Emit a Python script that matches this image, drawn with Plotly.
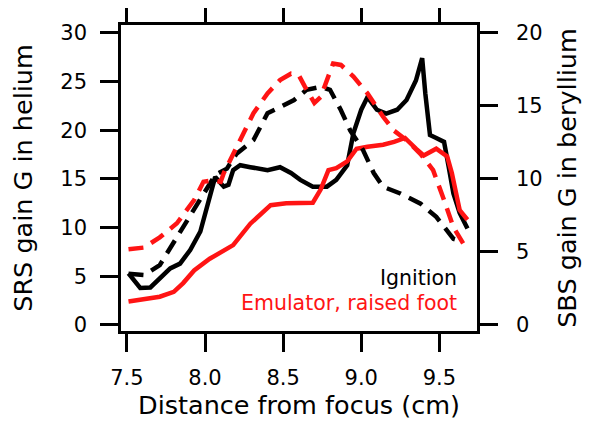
import plotly.graph_objects as go

# Ignition SRS (left axis, helium)
ign_srs_x = [7.51, 7.585, 7.65, 7.71, 7.777, 7.84, 7.905, 7.97, 8.03, 8.065, 8.12, 8.15, 8.18, 8.225, 8.29, 8.40, 8.48, 8.55, 8.61, 8.69, 8.78, 8.84, 8.91, 8.95, 9.0, 9.04, 9.1, 9.16, 9.23, 9.29, 9.35, 9.39, 9.41, 9.44, 9.48, 9.53, 9.56, 9.59, 9.63, 9.68]
ign_srs_y = [5.3, 3.8, 3.85, 4.8, 5.8, 6.3, 7.7, 9.6, 13.2, 15.2, 14.2, 14.4, 15.9, 16.4, 16.2, 15.9, 16.2, 15.6, 14.9, 14.2, 14.2, 14.9, 16.4, 19.7, 22.1, 23.4, 22.1, 21.7, 22.1, 23.1, 25.1, 27.4, 23.8, 19.5, 19.2, 18.8, 16.2, 13.5, 11.5, 9.9]

# Emulator SRS (left axis, helium)
emu_srs_x = [7.51, 7.61, 7.71, 7.80, 7.86, 7.93, 8.03, 8.18, 8.29, 8.42, 8.52, 8.69, 8.74, 8.79, 8.84, 8.91, 8.97, 9.04, 9.14, 9.21, 9.28, 9.35, 9.40, 9.48, 9.55, 9.58, 9.60, 9.63, 9.68]
emu_srs_y = [2.4, 2.6, 2.9, 3.4, 4.3, 5.6, 6.8, 8.2, 10.4, 12.3, 12.5, 12.55, 13.9, 15.9, 16.1, 16.8, 18.1, 18.3, 18.5, 18.8, 19.2, 18.1, 17.4, 18.1, 17.3, 15.6, 13.9, 11.8, 10.8]

# Ignition SBS (right axis, beryllium)
ign_sbs_x = [7.51, 7.61, 7.71, 7.82, 7.905, 7.99, 8.065, 8.14, 8.20, 8.31, 8.40, 8.46, 8.57, 8.65, 8.74, 8.80, 8.87, 8.93, 9.01, 9.08, 9.14, 9.25, 9.38, 9.48, 9.59, 9.65]
ign_sbs_y = [3.5, 3.42, 4.1, 6.0, 7.6, 9.0, 10.26, 10.7, 11.7, 12.65, 14.5, 14.8, 15.4, 16.1, 16.3, 16.1, 14.7, 13.3, 12.0, 10.4, 9.46, 9.0, 8.3, 7.4, 5.9, 5.7]

# Emulator SBS (right axis, beryllium)
emu_sbs_x = [7.51, 7.61, 7.71, 7.82, 7.93, 7.99, 8.055, 8.10, 8.12, 8.18, 8.25, 8.31, 8.40, 8.48, 8.55, 8.60, 8.64, 8.70, 8.74, 8.78, 8.82, 8.87, 8.95, 9.04, 9.14, 9.21, 9.29, 9.38, 9.44, 9.46, 9.53, 9.59, 9.665]
emu_sbs_y = [5.18, 5.3, 6.0, 6.96, 8.55, 9.8, 9.9, 9.8, 10.4, 11.7, 13.1, 14.5, 15.85, 16.76, 17.2, 17.1, 16.3, 15.2, 15.6, 16.76, 17.9, 17.8, 17.0, 15.85, 14.25, 13.3, 12.65, 11.7, 10.8, 10.6, 8.55, 6.7, 5.35]

x_ticks = [7.5, 8.0, 8.5, 9.0, 9.5]
y_left_ticks = [0, 5, 10, 15, 20, 25, 30]
y_right_ticks = [0, 5, 10, 15, 20]

BLACK = "#000000"
RED = "#ff1414"
FONT = "DejaVu Sans"
dash = "15px,9px"

fig = go.Figure()
fig.add_trace(go.Scatter(x=ign_sbs_x, y=ign_sbs_y, yaxis="y2", mode="lines",
                         line=dict(color=BLACK, width=4.5, dash=dash)))
fig.add_trace(go.Scatter(x=emu_sbs_x, y=emu_sbs_y, yaxis="y2", mode="lines",
                         line=dict(color=RED, width=4.5, dash=dash)))
fig.add_trace(go.Scatter(x=ign_srs_x, y=ign_srs_y, mode="lines",
                         line=dict(color=BLACK, width=4.5)))
fig.add_trace(go.Scatter(x=emu_srs_x, y=emu_srs_y, mode="lines",
                         line=dict(color=RED, width=4.5)))

axis_common = dict(showgrid=False, zeroline=False, showline=True, linecolor="black",
                   linewidth=2.5, ticks="outside", ticklen=18, tickwidth=2.5, automargin=False,
                   tickcolor="black",
                   tickfont=dict(family=FONT, size=21, color="black"))
title_font = dict(family=FONT, size=25.5, color="black")

fig.update_layout(
    width=584, height=415,
    margin=dict(l=113, r=115, t=17, b=92),
    paper_bgcolor="white", plot_bgcolor="white",
    showlegend=False,
    xaxis=dict(range=[7.462, 9.741], tickvals=x_ticks, ticktext=[f"{v:.1f}" for v in x_ticks],
               mirror="ticks", ticklabelstandoff=8,
               title=dict(text="Distance from focus (cm)", font=title_font, standoff=7),
               **axis_common),
    yaxis=dict(range=[-0.62, 30.8], tickvals=y_left_ticks, ticklabelstandoff=9,
               title=dict(text="SRS gain G in helium", font=title_font, standoff=22),
               **axis_common),
    yaxis2=dict(range=[-0.62 * 2 / 3, 30.8 * 2 / 3], tickvals=y_right_ticks, overlaying="y", side="right",
                ticklabelstandoff=14,
                title=dict(text="SBS gain G in beryllium", font=title_font, standoff=17),
                **axis_common),
    annotations=[
        dict(text="Ignition", xref="paper", yref="paper", x=0.95, y=0.173, xanchor="right",
             yanchor="middle", showarrow=False, font=dict(family=FONT, size=20.5, color=BLACK)),
        dict(text="Emulator, raised foot", xref="paper", yref="paper", x=0.95, y=0.092, xanchor="right",
             yanchor="middle", showarrow=False, font=dict(family=FONT, size=20.5, color=RED)),
    ],
)

fig.write_html("out.html")
